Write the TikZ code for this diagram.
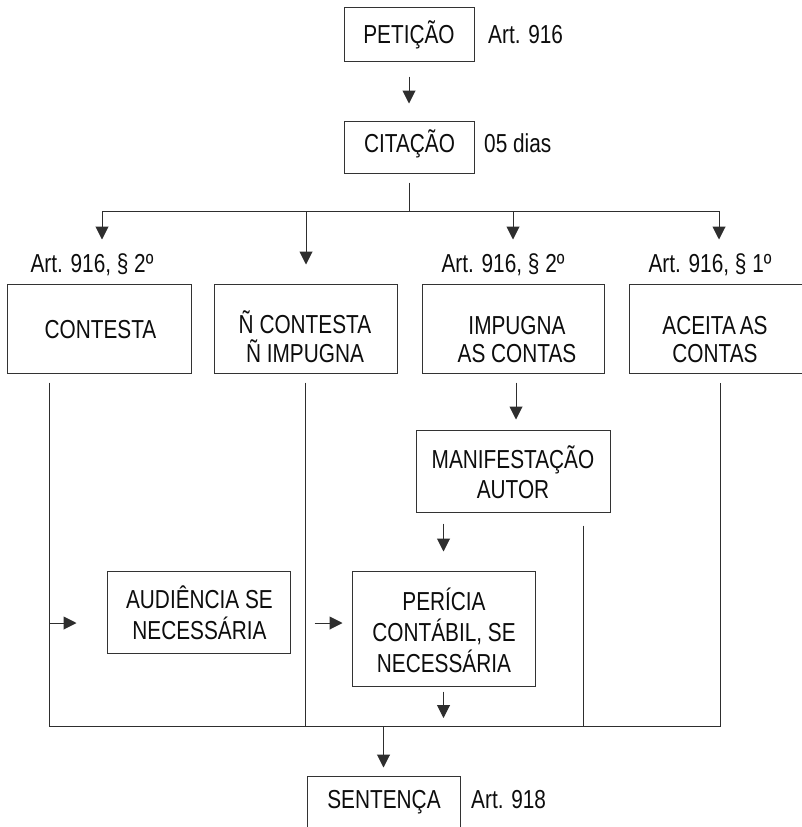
\documentclass[tikz,border=0pt]{standalone}
\usepackage{fontspec}
\setmainfont{Liberation Sans}[FakeStretch=0.8]
\usetikzlibrary{arrows.meta}
\newcommand\mlines[2]{{\fontsize{26}{#1}\selectfont\begin{tabular}[t]{@{}c@{}}#2\end{tabular}}}
\begin{document}
\begin{tikzpicture}[x=1pt,y=-1pt,
  font=\fontsize{26}{29}\selectfont,
  box/.style={draw=black!80, line width=1pt, inner sep=0pt},
  txt/.style={inner sep=0pt, anchor=base, text=black!95},
  side/.style={inner sep=0pt, anchor=base west, text=black!95},
  ln/.style={draw=black!82, line width=1pt},
  arr/.style={ln, -{Triangle[length=13pt,width=13pt]}}]
\clip (0,0) rectangle (802,827);
\fill[white] (0,0) rectangle (802,827);

% boxes
\node[box, minimum width=130pt, minimum height=54pt] (pet) at (409,34) {};
\node[box, minimum width=130pt, minimum height=52pt] (cit) at (409,147) {};
\node[box, minimum width=184pt, minimum height=89pt] (con) at (99,328.5) {};
\node[box, minimum width=183pt, minimum height=89pt] (nco) at (305.5,328.5) {};
\node[box, minimum width=182pt, minimum height=89pt] (imp) at (513,328.5) {};
\node[box, minimum width=182pt, minimum height=89pt] (ace) at (720,328.5) {};
\node[box, minimum width=194pt, minimum height=82pt] (man) at (513,471) {};
\node[box, minimum width=183pt, minimum height=82pt] (aud) at (198.5,612) {};
\node[box, minimum width=183pt, minimum height=115pt] (per) at (443.5,628.5) {};
\node[box, minimum width=153pt, minimum height=54pt] (sen) at (383.5,803) {};

% box texts
\node[txt] (pet-t) at (409,43) {PETIÇÃO};
\node[txt] (cit-t) at (409.5,152) {CITAÇÃO};
\node[txt] (con-t) at (100.5,338) {CONTESTA};
\node[txt] (nco-t) at (305,333) {\mlines{23}{Ñ CONTESTA\\Ñ IMPUGNA}};
\node[txt] (imp-t) at (517,334) {\mlines{28}{IMPUGNA\\AS CONTAS}};
\node[txt] (ace-t) at (715,334) {\mlines{28}{ACEITA\hspace{0.15em}AS\\CONTAS}};
\node[txt] (man-t) at (513,468) {\mlines{30}{MANIFESTAÇÃO\\AUTOR}};
\node[txt] (aud-t) at (199.5,608) {\mlines{30}{AUDIÊNCIA SE\\NECESSÁRIA}};
\node[txt] (per-t) at (444,610) {\mlines{29}{PERÍCIA\\CONTÁBIL, SE\\NECESSÁRIA}};
\node[txt] (sen-t) at (384,808) {SENTENÇA};

% side labels
\node[side] (l-pet) at (488,43) {Art. 916};
\node[side] (l-cit) at (484,152) {05 dias};
\node[txt] (l-con) at (92,272) {Art. 916, § 2º};
\node[txt] (l-imp) at (503,272) {Art. 916, § 2º};
\node[txt] (l-ace) at (710,272) {Art. 916, § 1º};
\node[side] (l-sen) at (471,808) {Art. 918};

% coordinates of the branch and the bottom line
\coordinate (bran) at (409,211);
\coordinate (bcon) at (102,211);
\coordinate (bnco) at (306,211);
\coordinate (bimp) at (513,211);
\coordinate (bace) at (719,211);
\coordinate (botL) at (49,726);
\coordinate (botR) at (720,726);

% connectors
\draw[arr] ([yshift=-15pt]pet.south) -- ([yshift=17pt]cit.north);
\draw[ln] ([yshift=-9pt]cit.south) -- (bran);
\draw[ln] (bcon) -- (bace);
\draw[arr] (bcon) -- ([yshift=44pt]con.north -| bcon);
\draw[arr] (bnco) -- ([yshift=19pt]nco.north -| bnco);
\draw[arr] (bimp) -- ([yshift=44pt]imp.north -| bimp);
\draw[arr] (bace) -- ([yshift=44pt]ace.north -| bace);

\draw[ln] ([yshift=-9pt]con.south -| botL) -- (botL) -- (botR) -- ([yshift=-9pt]ace.south -| botR);
\draw[ln] ([yshift=-9pt]nco.south) -- (nco.south |- botL);
\draw[arr] ([xshift=3pt,yshift=-9pt]imp.south) -- ([xshift=3pt,yshift=10pt]man.north);
\draw[arr] ([yshift=-11pt]man.south -| per) -- ([yshift=19pt]per.north);
\draw[ln] ([xshift=70pt,yshift=-13pt]man.south) -- ([xshift=70pt]man.south |- botL);
\draw[arr] ([yshift=-5pt]per.south) -- ([yshift=8pt]per.south |- botL);
\draw[arr] (botL -| sen) -- ([yshift=8pt]sen.north);

\draw[arr] ([yshift=-11pt]botL |- aud.center) -- ([xshift=-30pt,yshift=-11pt]aud.west);
\draw[arr] ([xshift=-37pt,yshift=5.5pt]per.west) -- ([xshift=-9pt,yshift=5.5pt]per.west);
\end{tikzpicture}
\end{document}
